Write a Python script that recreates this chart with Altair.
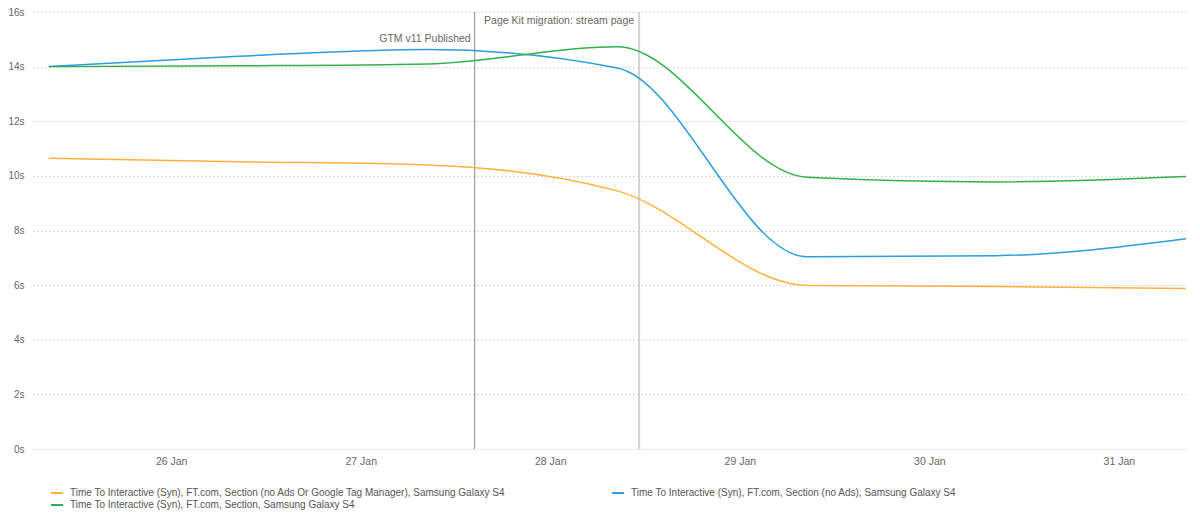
import altair as alt
import pandas as pd

dates = ["2019-01-25T08:30", "2019-01-26T08:30", "2019-01-27T08:30", "2019-01-28T08:30",
         "2019-01-29T08:30", "2019-01-30T08:30", "2019-01-31T08:30"]
s_orange = "Time To Interactive (Syn), FT.com, Section (no Ads Or Google Tag Manager), Samsung Galaxy S4"
s_blue = "Time To Interactive (Syn), FT.com, Section (no Ads), Samsung Galaxy S4"
s_green = "Time To Interactive (Syn), FT.com, Section, Samsung Galaxy S4"
orange_vals = [10.65, 10.52, 10.4, 9.45, 5.99, 5.95, 5.88]
blue_vals = [14.0, 14.38, 14.63, 13.95, 7.04, 7.08, 7.70]
green_vals = [14.0, 14.03, 14.1, 14.73, 9.95, 9.78, 9.98]
# legend fills column by column: orange, green in column 1; blue in column 2
series = [s_orange, s_green, s_blue]
colors = ["#ffb13c", "#30b04a", "#2b9de0"]

ann_dates = ["2019-01-27T14:26", "2019-01-28T11:15"]
ann_labels = ["GTM v11 Published", "Page Kit migration: stream page"]

rows = []
for name, vals in zip([s_orange, s_blue, s_green], [orange_vals, blue_vals, green_vals]):
    for d, v in zip(dates, vals):
        rows.append({"date": d, "value": v, "series": name})
df = pd.DataFrame(rows)
ann = pd.DataFrame({"date": ann_dates, "label": ann_labels})

x_scale = alt.Scale(domain=["2019-01-25T06:30", "2019-01-31T08:30"])

lines = alt.Chart(df).mark_line(interpolate="monotone", strokeWidth=1.5).encode(
    x=alt.X("date:T", scale=x_scale, title=None,
            axis=alt.Axis(format="%d %b", tickCount={"interval": "day", "step": 1},
                          grid=False, domain=False, ticks=False, labelPadding=7,
                          labelColor="#666", labelFontSize=10.5, labelFont="Liberation Sans")),
    y=alt.Y("value:Q", scale=alt.Scale(domain=[0, 16], nice=False), title=None,
            axis=alt.Axis(values=[0, 2, 4, 6, 8, 10, 12, 14, 16], labelExpr="datum.value + 's'",
                          domain=False, ticks=False, labelPadding=9,
                          gridDash=[1, 3], gridColor="#b0b0b0", gridWidth=1,
                          labelColor="#666", labelFontSize=10, labelFont="Liberation Sans")),
    color=alt.Color("series:N", scale=alt.Scale(domain=series, range=colors),
                    legend=alt.Legend(title=None, orient="none", legendX=17, legendY=474,
                                      columns=2, columnPadding=102, rowPadding=0,
                                      symbolType="stroke", symbolSize=144, symbolStrokeWidth=2,
                                      labelOffset=6, labelFontSize=10, labelColor="#555",
                                      labelFont="Liberation Sans", labelLimit=800)),
)

rule_gtm = alt.Chart(ann.iloc[[0]]).mark_rule(color="#8a8a8a", strokeWidth=1).encode(
    x=alt.X("date:T", scale=x_scale), y=alt.value(0), y2=alt.value(437))
rule_pk = alt.Chart(ann.iloc[[1]]).mark_rule(color="#d2d2d2", strokeWidth=2).encode(
    x=alt.X("date:T", scale=x_scale), y=alt.value(0), y2=alt.value(437))

txt_gtm = alt.Chart(ann.iloc[[0]]).mark_text(align="right", baseline="middle", dx=-4,
                                             fontSize=10.5, color="#666", font="Liberation Sans").encode(
    x=alt.X("date:T", scale=x_scale), y=alt.value(27), text="label:N")
txt_pk = alt.Chart(ann.iloc[[1]]).mark_text(align="right", baseline="middle", dx=-5,
                                            fontSize=10.5, color="#666", font="Liberation Sans").encode(
    x=alt.X("date:T", scale=x_scale), y=alt.value(9), text="label:N")

chart = alt.layer(rule_gtm, rule_pk, lines, txt_gtm, txt_pk).properties(
    width=1153, height=437,
    autosize=alt.AutoSizeParams(type="none"),
    padding={"left": 25, "top": 4, "right": 0, "bottom": 64},
).configure_view(stroke=None)

chart.save("out.html", embed_options={"renderer": "svg", "actions": False})
